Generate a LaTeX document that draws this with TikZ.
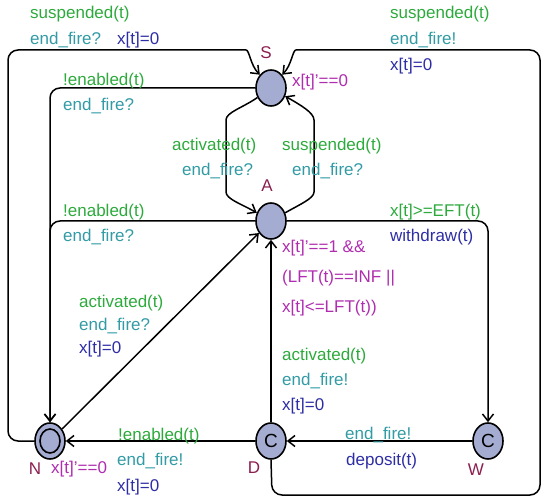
\documentclass[tikz,border=0pt]{standalone}
\usepackage{fontspec}
\setmainfont{Liberation Sans}
\usepackage{xcolor}
\usetikzlibrary{arrows.meta,positioning,shapes.geometric}
\definecolor{grdgreen}{RGB}{45,170,60}
\definecolor{synccyan}{RGB}{50,155,165}
\definecolor{updblue}{RGB}{45,45,165}
\definecolor{invpink}{RGB}{175,45,175}
\definecolor{namered}{RGB}{140,30,80}
\definecolor{locfill}{RGB}{165,172,210}
\tikzset{
  loc/.style   = {draw, line width=1.6pt, ellipse, fill=locfill, inner sep=0pt,
                  minimum width=30pt, minimum height=36pt,
                  font=\fontsize{19}{20}\selectfont},
  edge/.style  = {-{Straight Barb[length=7pt,width=11pt]}, line width=1.5pt,
                  rounded corners=10pt},
  lbl/.style   = {anchor=west, inner sep=0pt, font=\fontsize{17}{20}\selectfont},
  grd/.style   = {lbl, text=grdgreen},
  sync/.style  = {lbl, text=synccyan},
  upd/.style   = {lbl, text=updblue},
  inv/.style   = {lbl, text=invpink},
  lname/.style = {inner sep=0pt, text=namered, font=\fontsize{17}{20}\selectfont},
}

\begin{document}
\begin{tikzpicture}[x=1pt, y=-1pt, on grid]
\useasboundingbox (0,0) rectangle (550,503);
% locations
\node[loc] (S) at (271,88) {};
\node[loc, below=133pt of S] (A) {};
\node[loc, below=220pt of A] (D) {C};
\node[loc, left=221pt of D] (N) {};
\node[loc, fill=none, minimum width=20pt, minimum height=24pt] (Ni) at (N) {};
\node[loc, right=217pt of D] (W) {C};
\node[lname] (nS) at (266,53) {S};
\node[lname] (nA) at (267,186) {A};
\node[lname] (nN) at (35,469) {N};
\node[lname] (nD) at (254,468) {D};
\node[lname] (nW) at (476,470) {W};
\node[inv] (iS) at (292,82) {x[t]'==0};
\node[inv] (iN) at (51,469) {x[t]'==0};
\node[inv, anchor=north west, align=left,
      font=\fontsize{17}{30}\selectfont] (iA) at (282,240)
  {x[t]'==1 \&\&\\(LFT(t)==INF ||\\x[t]<=LFT(t))};
% edges
\draw[edge] (N.west) -- (8,441) -- (8,50) -- (236,50) to[out=0, in=135] (S.130);
\draw[edge] (D.south) -- (272,495) -- (540,495) -- (540,50) -- (306,50)
  to[out=180, in=45] (S.50);
\draw[edge] (S.west) -| (N.north);
\draw[edge] (A.west) -| (N.north);
\draw[edge] (N) -- (A);
\draw[edge] (S.215) to[out=215, in=90] (226,130) -- (226,182)
  to[out=-90, in=150] (A.150);
\draw[edge] (A.30) to[out=30, in=-90] (314,182) -- (314,130)
  to[out=90, in=-30] (S.-30);
\draw[edge] (A.east) -| (W.north);
\draw[edge] (W) -- (D);
\draw[edge] (D) -- (N);
\draw[edge] (D) -- (A);
% edge labels
\node[grd]  (g1) at (30,14) {suspended(t)};
\node[sync] (s1) at (30,40) {end\_fire?};
\node[upd]  (u1) at (117,40) {x[t]=0};
\node[grd]  (g2) at (390,14) {suspended(t)};
\node[sync] (s2) at (390,40) {end\_fire!};
\node[upd]  (u2) at (390,66) {x[t]=0};
\node[grd]  (g3) at (63,81) {!enabled(t)};
\node[sync] (s3) at (63,106) {end\_fire?};
\node[grd]  (g4) at (172,146) {activated(t)};
\node[sync] (s4) at (182,171) {end\_fire?};
\node[grd]  (g5) at (282,146) {suspended(t)};
\node[sync] (s5) at (292,171) {end\_fire?};
\node[grd]  (g6) at (63,212) {!enabled(t)};
\node[sync] (s6) at (63,237) {end\_fire?};
\node[grd]  (g7) at (390,212) {x[t]>=EFT(t)};
\node[upd]  (u7) at (390,237) {withdraw(t)};
\node[grd]  (g8) at (79,303) {activated(t)};
\node[sync] (s8) at (79,326) {end\_fire?};
\node[upd]  (u8) at (79,349) {x[t]=0};
\node[grd]  (g9) at (282,356) {activated(t)};
\node[sync] (s9) at (282,381) {end\_fire!};
\node[upd]  (u9) at (282,406) {x[t]=0};
\node[grd]  (g10) at (118,436) {!enabled(t)};
\node[sync] (s10) at (117,461) {end\_fire!};
\node[upd]  (u10) at (117,487) {x[t]=0};
\node[sync] (s11) at (345,435) {end\_fire!};
\node[upd]  (u11) at (346,461) {deposit(t)};
\end{tikzpicture}
\end{document}
